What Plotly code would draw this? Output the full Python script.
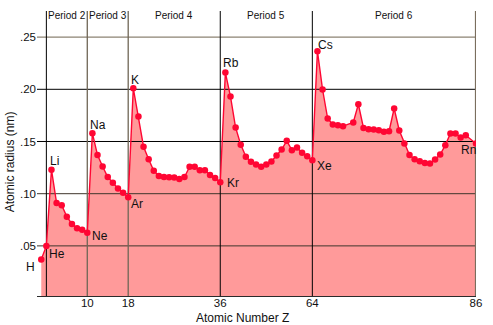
import plotly.graph_objects as go

# ---- data ----
atomic_numbers = [1, 2, 3, 4, 5, 6, 7, 8, 9, 10,
                  11, 12, 13, 14, 15, 16, 17, 18,
                  19, 20, 21, 22, 23, 24, 25, 26, 27, 28, 29, 30, 31, 32, 33, 34, 35, 36,
                  37, 38, 39, 40, 41, 42, 43, 44, 45, 46, 47, 48, 49, 50, 51, 52, 53, 54,
                  55, 56, 57, 58, 59, 60, 62, 63, 64, 65, 66, 67, 68, 69, 70, 71,
                  72, 73, 74, 75, 76, 77, 78, 79, 80, 81, 82, 83, 84, 86]
radii_nm = [0.037, 0.050, 0.123, 0.091, 0.089, 0.078, 0.071, 0.067, 0.0655, 0.0625,
            0.158, 0.137, 0.126, 0.116, 0.1105, 0.105, 0.101, 0.0965,
            0.201, 0.174, 0.145, 0.133, 0.122, 0.117, 0.116, 0.1158, 0.1155, 0.114, 0.116, 0.1257, 0.1257, 0.1225, 0.1225, 0.118, 0.115, 0.111,
            0.216, 0.193, 0.1634, 0.147, 0.1355, 0.1305, 0.128, 0.1257, 0.128, 0.1308, 0.1366, 0.1423, 0.1506, 0.1417, 0.1443, 0.1391, 0.1359, 0.1321,
            0.2365, 0.1998, 0.172, 0.1663, 0.1656, 0.1647, 0.1682, 0.1857, 0.163, 0.1618, 0.1615, 0.1608, 0.1594, 0.1598, 0.1816, 0.1605,
            0.148, 0.137, 0.133, 0.1311, 0.1295, 0.1289, 0.1327, 0.1375, 0.1465, 0.1577, 0.1577, 0.1538, 0.156, 0.148]

# labelled elements: symbol, Z, label offset (px, right / down)
label_symbols = ["H", "He", "Li", "Ne", "Na", "Ar", "K", "Kr", "Rb", "Xe", "Cs", "Rn"]
label_z = [1, 2, 3, 10, 11, 18, 19, 36, 37, 54, 55, 86]
label_dx = [-11, 11, 3, 12.5, 5.6, 8.5, 1.7, 12.5, 6, 12.5, 8.4, -8]
label_dy = [8, 8, -9, 3.5, -8.5, 7, -8.5, 0.5, -9.5, 6, -6.5, 6.5]

period_names = ["Period 2", "Period 3", "Period 4", "Period 5", "Period 6"]
period_bounds = [2, 10, 18, 36, 54, 86]

x_tick_vals = [10, 18, 36, 54, 86]
x_tick_text = ["10", "18", "36", "64", "86"]
y_tick_vals = [0.05, 0.10, 0.15, 0.20, 0.25]
y_tick_text = [".05", ".10", ".15", ".20", ".25"]

x_range = [0.17, 86]
y_range = [0.002, 0.275]

FONT = "Liberation Sans, Arial, Helvetica, sans-serif"

fig = go.Figure()

# area fill
fig.add_trace(go.Scatter(x=atomic_numbers, y=radii_nm, mode="none", fill="tozeroy",
                         fillcolor="#ff9a9a", hoverinfo="skip", showlegend=False))

# horizontal grid lines (drawn above fill)
h_colors = ["#3f352c", "#3f352c", "#000000", "#000000", "#6f6350"]
for yv, col in zip(y_tick_vals, h_colors):
    fig.add_trace(go.Scatter(x=x_range, y=[yv, yv], mode="lines",
                             line=dict(color=col, width=1), hoverinfo="skip", showlegend=False))

# vertical period boundaries
v_colors = ["#000000", "#6f6656", "#6f6656", "#000000", "#000000", "#7a6e5e"]
v_widths = [1, 1.3, 1.3, 1, 1, 2.2]
for xv, col, w in zip(period_bounds, v_colors, v_widths):
    fig.add_trace(go.Scatter(x=[xv, xv], y=y_range, mode="lines",
                             line=dict(color=col, width=w), hoverinfo="skip", showlegend=False))

# data line + markers
fig.add_trace(go.Scatter(x=atomic_numbers, y=radii_nm, mode="lines+markers",
                         line=dict(color="#ff0633", width=1.4),
                         marker=dict(color="#ff0633", size=6.5),
                         showlegend=False))

annotations = []
for sym, z, dx, dy in zip(label_symbols, label_z, label_dx, label_dy):
    r = radii_nm[atomic_numbers.index(z)]
    annotations.append(dict(x=z, y=r, xref="x", yref="y", text=sym, showarrow=False,
                            xanchor="center", yanchor="middle", xshift=dx, yshift=-dy,
                            font=dict(family=FONT, size=12, color="#111")))

for i, name in enumerate(period_names):
    cx = (period_bounds[i] + period_bounds[i + 1]) / 2
    annotations.append(dict(x=cx, y=1, xref="x", yref="paper", text=name, showarrow=False,
                            xanchor="center", yanchor="top", yshift=3,
                            font=dict(family=FONT, size=10, color="#111")))

annotations.append(dict(x=0.467, y=-0.077, xref="paper", yref="paper", text="Atomic Number Z",
                        showarrow=False, xanchor="center", yanchor="middle",
                        font=dict(family=FONT, size=12, color="#111")))
annotations.append(dict(x=-0.061, y=0.47, xref="paper", yref="paper", text="Atomic radius (nm)",
                        showarrow=False, xanchor="center", yanchor="middle", textangle=-90,
                        font=dict(family=FONT, size=12, color="#111")))

fig.update_layout(
    width=493, height=325,
    margin=dict(l=37, r=14, t=11, b=29),
    paper_bgcolor="white", plot_bgcolor="white",
    font=dict(family=FONT, size=11.5, color="#111"),
    annotations=annotations,
    xaxis=dict(range=x_range, tickvals=x_tick_vals, ticktext=x_tick_text,
               showgrid=False, zeroline=False, showline=True, linecolor="#2b2b2b",
               linewidth=1, ticks="", tickfont=dict(size=11.5), ticklabelstandoff=-4),
    yaxis=dict(range=y_range, tickvals=y_tick_vals, ticktext=y_tick_text,
               showgrid=False, zeroline=False, showline=False, ticks="",
               tickfont=dict(size=11.5)),
)

fig.write_html("out.html", config={"displayModeBar": False},
               post_script="document.body.style.margin='0';document.body.style.overflow='hidden';")
